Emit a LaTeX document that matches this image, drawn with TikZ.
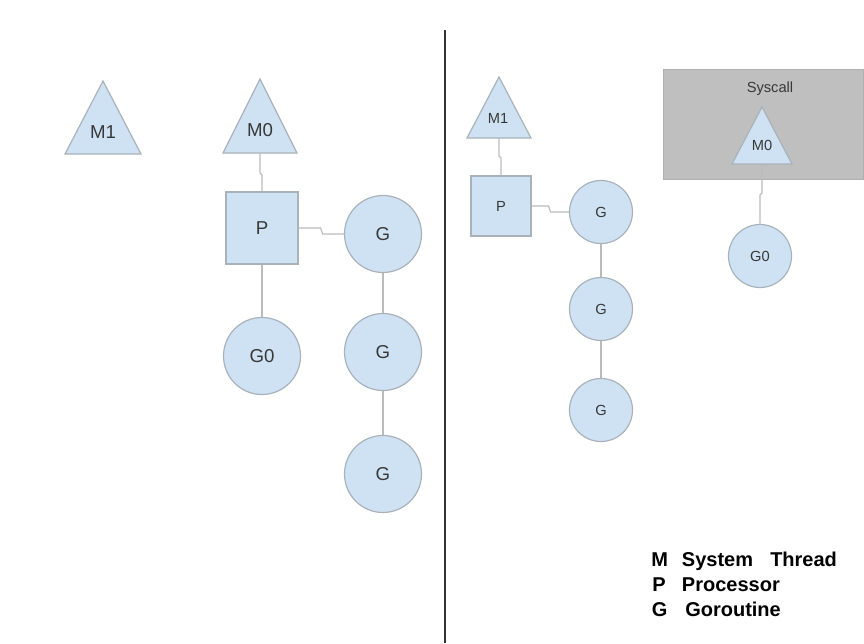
\documentclass[tikz,border=0pt]{standalone}
\usepackage{fontspec}
\setmainfont{Liberation Sans}
\definecolor{fillblue}{HTML}{CFE2F3}
\definecolor{edgegray}{HTML}{A9B2BA}
\definecolor{linkgray}{HTML}{BBBBBB}
\definecolor{txt}{HTML}{383838}
\definecolor{boxgray}{HTML}{BFBFBF}
\definecolor{boxedge}{HTML}{B0B0B0}
\begin{document}
\begin{tikzpicture}[x=0.75pt,y=-0.75pt,
  shapeline/.style={draw=edgegray, fill=fillblue, line width=0.9pt},
  gnode/.style={circle, shapeline, inner sep=0pt, text=txt},
  pnode/.style={rectangle, shapeline, inner sep=0pt, text=txt},
  bigfont/.style={font=\fontsize{14}{16}\selectfont},
  smallfont/.style={font=\fontsize{11}{13}\selectfont},
  link/.style={draw=linkgray, line width=0.9pt},
  lbl/.style={text=txt, inner sep=0pt},
  legend/.style={font=\fontsize{15}{18}\selectfont\bfseries, anchor=base west, inner sep=0pt, text=black}]
\useasboundingbox (0,0) rectangle (864,643);

% divider
\coordinate (divtop) at (445,30);
\coordinate (divbot) at (445,643);
\draw[line width=1.2pt, draw=black!80] (divtop) -- (divbot);

% ---------- left ----------
\coordinate (m1La) at (65,154); \coordinate (m1Lb) at (141,154); \coordinate (m1Lc) at (103,81);
\draw[shapeline] (m1La) -- (m1Lb) -- (m1Lc) -- cycle;
\node[lbl, bigfont] (m1Ltext) at (103,132) {M1};

\coordinate (m0La) at (223,153); \coordinate (m0Lb) at (297,153); \coordinate (m0Lc) at (260,79);
\draw[shapeline] (m0La) -- (m0Lb) -- (m0Lc) -- cycle;
\node[lbl, bigfont] (m0Ltext) at (260,130) {M0};
\coordinate (m0Lbase) at (260,153);

\node[pnode, bigfont, minimum size=54pt] (pL) at (262,228) {P};
\node[gnode, bigfont, minimum size=57.75pt] (g0L) at (262,356) {G0};
\node[gnode, bigfont, minimum size=57.75pt] (gL1) at (383,234) {G};
\node[gnode, bigfont, minimum size=57.75pt] (gL2) at (383,352) {G};
\node[gnode, bigfont, minimum size=57.75pt] (gL3) at (383,474) {G};

\draw[link] (m0Lbase) -- ++(0,20) -- ++(2,2) -- (pL.north);
\draw[link] (pL.east) -- ++(22,0) -- ++(2,6) -- (gL1.west);
\draw[link] (pL.south) -- (g0L.north);
\draw[link] (gL1.south) -- (gL2.north);
\draw[link] (gL2.south) -- (gL3.north);

% ---------- right ----------
\coordinate (m1Ra) at (467,138); \coordinate (m1Rb) at (531,138); \coordinate (m1Rc) at (499,77);
\draw[shapeline] (m1Ra) -- (m1Rb) -- (m1Rc) -- cycle;
\node[lbl, smallfont] (m1Rtext) at (498,118) {M1};
\coordinate (m1Rbase) at (499,138);

\node[pnode, smallfont, minimum size=45pt] (pR) at (501,206) {P};
\node[gnode, smallfont, minimum size=47.25pt] (gR1) at (601,212) {G};
\node[gnode, smallfont, minimum size=47.25pt] (gR2) at (601,309) {G};
\node[gnode, smallfont, minimum size=47.25pt] (gR3) at (601,410) {G};

\draw[link] (m1Rbase) -- ++(0,18) -- ++(2,2) -- (pR.north);
\draw[link] (pR.east) -- ++(17,0) -- ++(2,6) -- (gR1.west);
\draw[link] (gR1.south) -- (gR2.north);
\draw[link] (gR2.south) -- (gR3.north);

% syscall box
\coordinate (boxa) at (663,69); \coordinate (boxb) at (863,179);
\draw[fill=boxgray, draw=boxedge, line width=0.6pt] (boxa) rectangle (boxb);
\node[lbl, smallfont] (sys) at (770,89) {Syscall};

\coordinate (m0Ra) at (732,164); \coordinate (m0Rb) at (792,164); \coordinate (m0Rc) at (762,107);
\draw[shapeline] (m0Ra) -- (m0Rb) -- (m0Rc) -- cycle;
\node[lbl, smallfont] (m0Rtext) at (762,145) {M0};
\coordinate (m0Rbase) at (762,164);

\node[gnode, smallfont, minimum size=47.25pt] (g0R) at (760,256) {G0};
\draw[link] (m0Rbase) -- ++(0,29) -- ++(-2,2) -- (g0R.north);

% ---------- legend ----------
\node[legend] (lgM) at (651,566) {M};
\node[legend] (lgMt1) at (681.7,566) {System};
\node[legend] (lgMt2) at (770,566) {Thread};
\node[legend] (lgP) at (652,591) {P};
\node[legend] (lgPt) at (681.7,591) {Processor};
\node[legend] (lgG) at (651.5,616) {G};
\node[legend] (lgGt) at (685,616) {Goroutine};
\end{tikzpicture}
\end{document}
